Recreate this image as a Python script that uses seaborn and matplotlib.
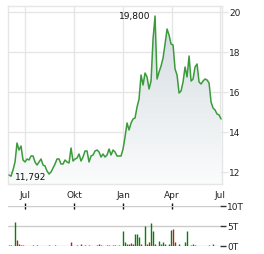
import numpy as np
import pandas as pd
import matplotlib
matplotlib.use("Agg")
import matplotlib.pyplot as plt
import matplotlib.dates as mdates
from matplotlib.colors import LinearSegmentedColormap
import seaborn as sns

# ---------------- data ----------------
start_date = "2023-06-01"
end_date = "2024-07-03"

price = [
    11.85, 11.79, 12.10, 12.50, 13.45, 13.10, 13.30, 12.60, 12.50, 12.65,
    12.60, 12.80, 12.80, 12.50, 12.35, 12.50, 12.65, 12.35, 12.30, 12.05,
    11.90, 12.00, 12.20, 12.40, 12.65, 12.65, 12.40, 12.40, 12.60, 12.50,
    12.45, 13.20, 12.55, 12.65, 12.70, 12.90, 12.55, 12.75, 13.05, 13.05,
    12.50, 12.80, 12.85, 13.05, 13.10, 13.00, 12.75, 12.90, 12.75, 12.85,
    13.15, 12.85, 13.10, 13.00, 12.80, 12.80, 12.80, 13.15, 13.75, 14.45,
    14.10, 14.45, 14.65, 14.70, 15.25, 15.65, 16.85, 16.35, 16.95, 16.75,
    16.15, 16.55, 18.65, 19.80, 16.65, 17.00, 17.30, 17.70, 18.40, 19.15,
    18.85, 18.40, 18.35, 17.15, 16.85, 15.95, 16.05, 16.50, 17.25, 16.75,
    17.80, 16.55, 16.65, 17.25, 17.40, 16.50, 16.40, 16.55, 16.65, 16.60,
    16.45, 15.50, 15.20, 15.10, 14.90, 14.85, 14.65,
]

vol_up = [
    0.2, 0.2, 0, 5.9, 0, 0, 0, 0, 0, 0,
    0, 0, 0, 0, 0.2, 0, 0, 0, 0, 0,
    0.2, 0, 0, 0.2, 0, 0, 0, 0, 0, 0,
    0, 0, 0, 0, 0.2, 0, 0, 0, 0.2, 0,
    0.2, 0, 0, 0, 0.2, 0, 0, 0, 0, 0.2,
    0.2, 0, 0, 0, 0, 0.2, 0, 3.7, 0.9, 0.6,
    0.4, 0, 0, 3.0, 3.0, 2.2, 0, 0, 5.1, 0.5,
    0, 5.8, 3.7, 0, 0, 1.3, 0.6, 0.9, 0.4, 0,
    0.6, 4.0, 0, 0, 0, 0.4, 0, 0, 1.0, 3.7,
    0, 0.2, 0.4, 0.2, 0, 0, 0, 0, 0, 0,
    0.2, 0, 0.4, 0, 0, 0, 0,
]

vol_down = [
    0, 0, 0, 0, 1.5, 0.6, 0.3, 0.3, 0, 0,
    0, 0, 0.2, 0, 0, 0, 0, 0, 0, 0,
    0, 0, 0, 0, 0, 0, 0, 0, 0, 0,
    0, 1.0, 0, 0, 0, 0, 0.6, 0, 0, 0,
    0, 0, 0, 0, 0, 0.6, 0.2, 0, 0, 0,
    0, 0, 0.2, 0.2, 0, 0, 0, 0, 0, 0,
    0, 0.7, 0.4, 0, 0, 0, 0.4, 0, 0, 0,
    0.9, 0, 0, 0.6, 0, 0, 0, 0, 0, 0,
    0, 0, 4.3, 0.9, 0, 0, 0, 0, 0, 0,
    0, 0, 0, 0, 0, 0, 0, 0, 0.1, 0,
    0, 0, 0, 0, 0.1, 0, 0,
]

month_ticks = ["2023-07-01", "2023-10-01", "2024-01-01", "2024-04-01", "2024-07-01"]
month_labels = ["Jul", "Okt", "Jan", "Apr", "Jul"]
price_ticks = [12, 14, 16, 18, 20]
price_labels = ["12", "14", "16", "18", "20"]
vol_ticks = [0, 5, 10]
vol_labels = ["0T", "5T", "10T"]
max_label = "19,800"
min_label = "11,792"

# ---------------- figure ----------------
sns.set_theme(style="white")
plt.rcParams["font.family"] = ["DejaVu Sans"]

W, H = 264, 255
fig = plt.figure(figsize=(W / 100, H / 100), dpi=100)
fig.patch.set_facecolor("white")


def frac(x0, y0, x1, y1):
    return [x0 / W, 1 - y1 / H, (x1 - x0) / W, (y1 - y0) / H]


ax = fig.add_axes(frac(8, 7, 222, 185))
axv = fig.add_axes(frac(8, 207, 220, 247))

dates = pd.date_range(start_date, end_date, periods=len(price))
df = pd.DataFrame({"date": dates, "price": price,
                   "up": vol_up, "down": vol_down})

jul0 = mdates.date2num(pd.Timestamp(month_ticks[0]))
jul1 = mdates.date2num(pd.Timestamp(month_ticks[-1]))
dpp = (jul1 - jul0) / 195.0
xl_main = (jul0 - 17 * dpp, jul1 + 2 * dpp)
xl_vol = (jul0 - 17 * dpp, jul1)

ylo, yhi = 11.4, 20.3

# gradient fill under the price line
xn = mdates.date2num(df["date"])
grad = np.linspace(0, 1, 256).reshape(-1, 1)
cmap = LinearSegmentedColormap.from_list("g", ["#fbfcfc", "#d3dbe1"])
poly = ax.fill_between(xn, df["price"], ylo, color="none", lw=0)
img = ax.imshow(grad, cmap=cmap, aspect="auto", origin="lower",
                extent=[xn[0], xn[-1], ylo, 19.8], zorder=1)
img.set_clip_path(poly.get_paths()[0], transform=ax.transData)

sns.lineplot(data=df, x="date", y="price", ax=ax, color="#3b9b3b",
             lw=1.1, zorder=3)

ax.set_xlim(*xl_main)
ax.set_ylim(ylo, yhi)
ax.set_xlabel("")
ax.set_ylabel("")
gc = "#e6e6e6"
ax.set_xticks([mdates.date2num(pd.Timestamp(d)) for d in month_ticks])
ax.set_xticklabels(month_labels)
ax.set_yticks(price_ticks)
ax.set_yticklabels(price_labels)
ax.yaxis.tick_right()
ax.grid(True, color=gc, lw=1)
ax.tick_params(axis="x", length=0, pad=4, labelsize=6.5, labelcolor="#222222")
ax.tick_params(axis="y", length=4, width=1, color=gc, pad=1,
               labelsize=6.5, labelcolor="#222222")
for s in ax.spines.values():
    s.set_color(gc)
    s.set_linewidth(1)

imax = int(np.argmax(price))
imin = int(np.argmin(price))
ax.annotate(max_label, (xn[imax], price[imax]), xytext=(-5, 0),
            textcoords="offset pixels", ha="right", va="center",
            fontsize=6.5, color="#111111", zorder=5)
ax.annotate(min_label, (xn[imin], price[imin]), xytext=(4, 0),
            textcoords="offset pixels", ha="left", va="center",
            fontsize=6.5, color="#111111", zorder=5)

# volume
for v in vol_ticks:
    axv.axhline(v, color="#cccccc", lw=1, zorder=1)
up = np.asarray(vol_up, dtype=float)
dn = np.asarray(vol_down, dtype=float)
mu = up > 0
md = dn > 0
axv.vlines(xn[mu], 0, up[mu], color="#078007", lw=1.0, zorder=3)
axv.vlines(xn[md], 0, dn[md], color="#b0202a", lw=1.0, zorder=3)
axv.set_xlim(*xl_vol)
axv.set_ylim(0, 10)
for s in axv.spines.values():
    s.set_visible(False)
axv.set_yticks(vol_ticks)
axv.set_yticklabels(vol_labels)
axv.yaxis.tick_right()
axv.tick_params(axis="y", length=4, width=1, color="#333333", pad=1,
                labelsize=6.5, labelcolor="#222222")
axv.set_xticks([mdates.date2num(pd.Timestamp(d)) for d in month_ticks[:4]])
axv.xaxis.tick_top()
axv.tick_params(axis="x", direction="inout", length=4, width=1,
                color="#111111", labeltop=False, labelbottom=False)
axv.grid(False)
axv.set_facecolor("none")

fig.savefig("out.png", dpi=100, facecolor="white")
